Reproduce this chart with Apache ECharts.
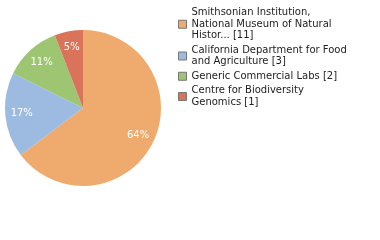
<!DOCTYPE html>
<html>
<head>
<meta charset="utf-8">
<script src="https://cdn.jsdelivr.net/npm/echarts@6/dist/echarts.min.js"></script>
<style>
  html, body { margin: 0; padding: 0; background: #fff; }
  #chart { width: 380px; height: 240px; }
</style>
</head>
<body>
<div id="chart"></div>
<script>
// labels as shown in the legend
const categories = [
  'Smithsonian Institution,\nNational Museum of Natural\nHistor... [11]',
  'California Department for Food\nand Agriculture [3]',
  'Generic Commercial Labs [2]',
  'Centre for Biodiversity\nGenomics [1]'
];
const counts = [11, 3, 2, 1];
const colors = ['#efab6e', '#9dbbe0', '#9dc572', '#d9735a'];

const total = counts.reduce((a, b) => a + b, 0);
const pieData = categories.map((name, i) => ({ name: name, value: counts[i] }));

const chart = echarts.init(document.getElementById('chart'));
chart.setOption({
  animation: false,
  color: colors,
  legend: {
    orient: 'vertical',
    left: 173,
    top: 2,
    itemWidth: 8,
    itemHeight: 8,
    itemGap: 3,
    icon: 'rect',
    itemStyle: { borderColor: '#777', borderWidth: 1 },
    textStyle: { fontFamily: 'DejaVu Sans', fontSize: 10, color: '#222', lineHeight: 11.5 },
    data: categories
  },
  series: [
    {
      // the pie itself
      type: 'pie',
      center: [83, 108],
      radius: [0, 78],
      startAngle: 90,
      clockwise: true,
      label: { show: false },
      labelLine: { show: false },
      silent: true,
      data: pieData
    },
    {
      // transparent ring only to place the percent labels further out
      type: 'pie',
      center: [83, 108],
      radius: [39, 78],
      startAngle: 90,
      clockwise: true,
      silent: true,
      legendHoverLink: false,
      itemStyle: { color: 'rgba(0,0,0,0)' },
      label: {
        show: true,
        position: 'inside',
        color: '#fff',
        fontFamily: 'DejaVu Sans',
        fontSize: 10,
        formatter: p => Math.floor(p.value / total * 100) + '%'
      },
      labelLine: { show: false },
      data: pieData
    }
  ]
});
</script>
</body>
</html>
